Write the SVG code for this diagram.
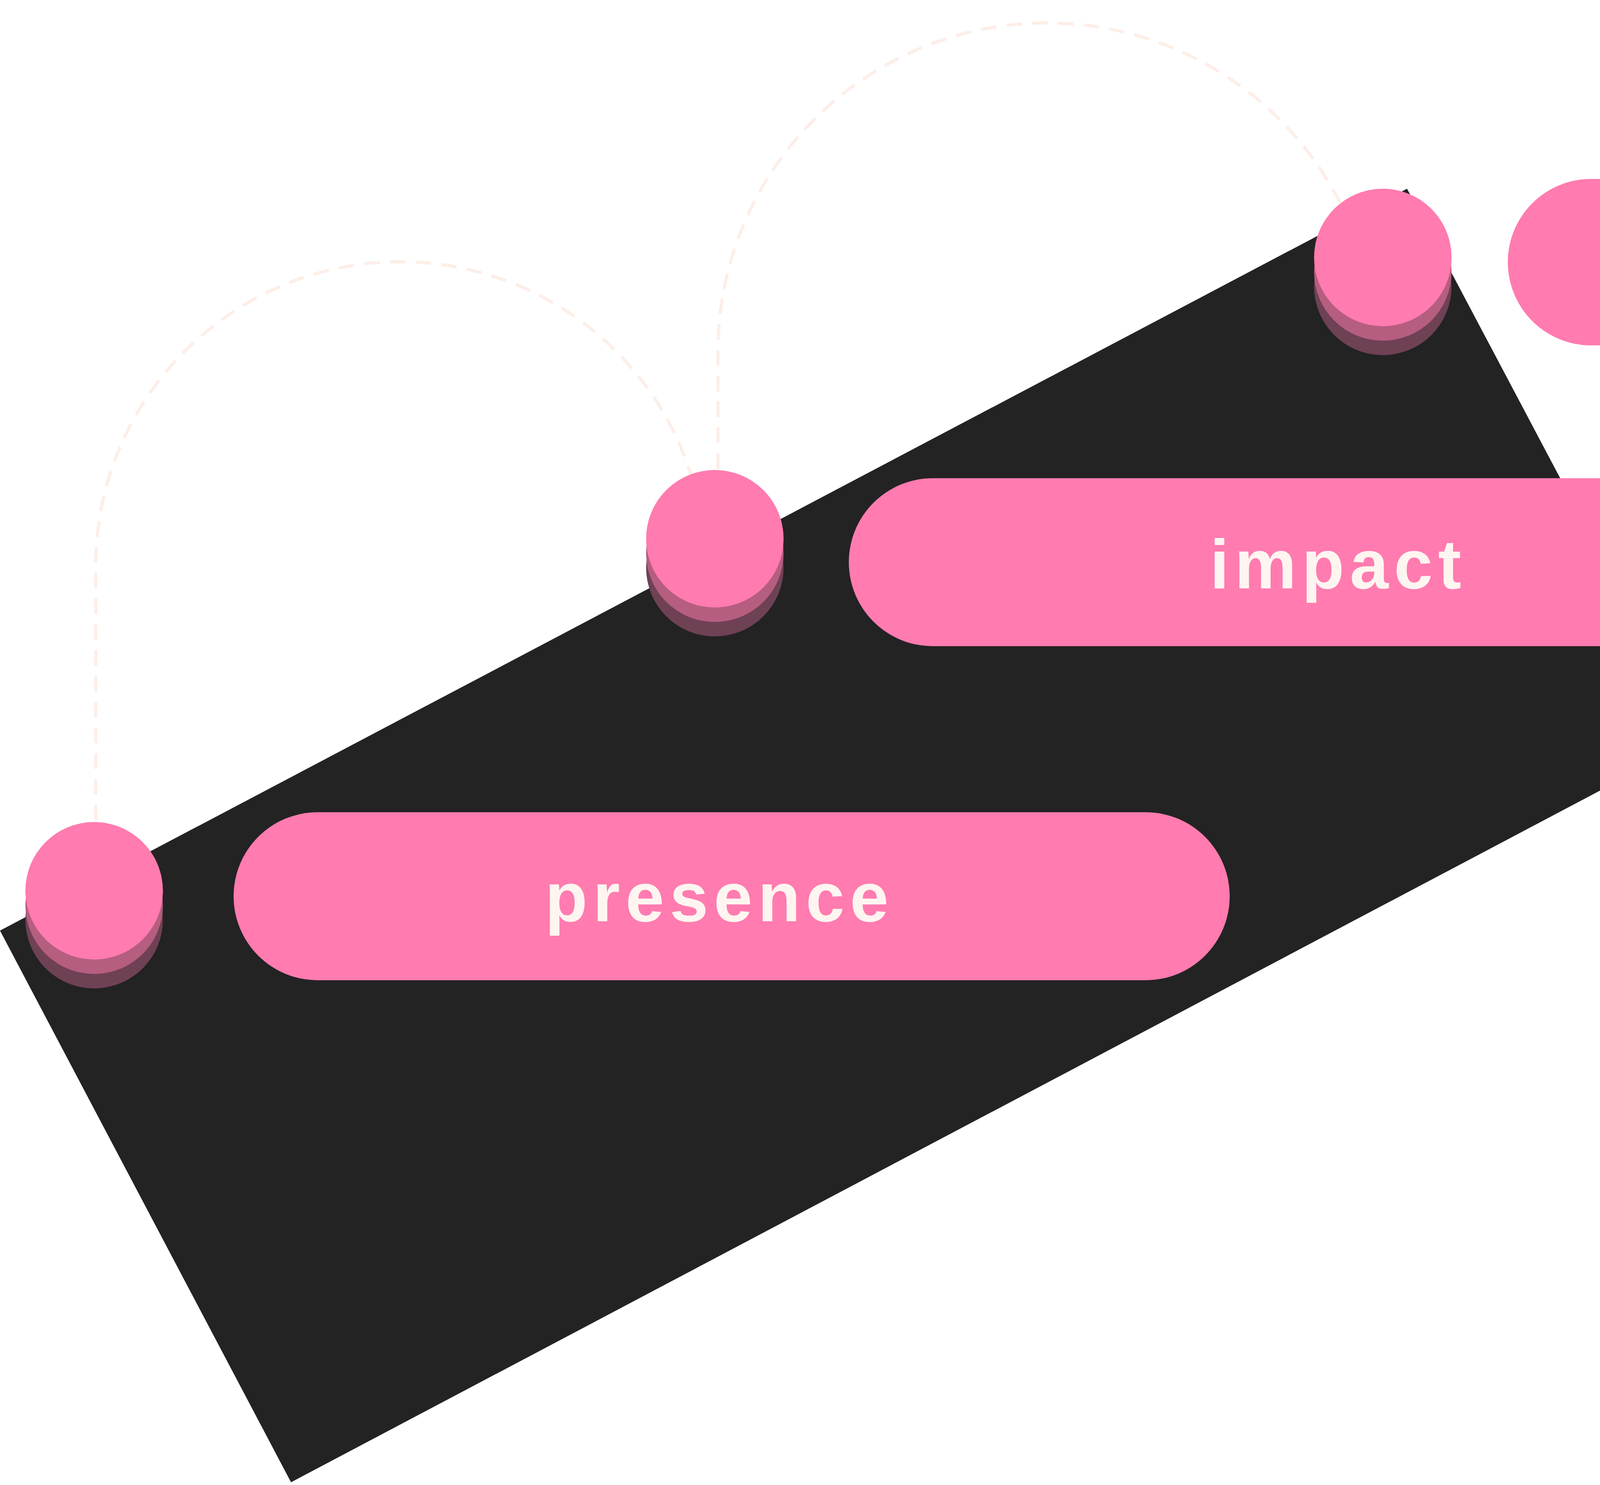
<svg xmlns="http://www.w3.org/2000/svg" width="6418" height="3801" viewBox="0 0 6418 3801">
<style>
.pill{fill:#ff7bb0}
.dot{fill:#ff7bb0}
.s1{fill:#b65e80}
.s2{fill:#6f4155}
.lbl{font-family:"Liberation Sans",Arial,sans-serif;font-weight:700;font-size:178px;fill:#fff5f0;text-anchor:middle;letter-spacing:14px}
.dash{fill:none;stroke:#fdeee8;stroke-width:8;stroke-dasharray:40 26}
</style>
<rect width="6418" height="3801" fill="#ffffff"/>
<polygon points="0,2382 3602,483 4347,1891 745,3794" fill="#232323"/>
<g id="connectors">
<path class="dash" d="M245 2100 L245 1450 A780 780 0 0 1 1805 1450"/>
<path class="dash" d="M1838 1200 L1838 900 A842 842 0 0 1 3431 520"/>
</g>
<g id="presence">
<circle class="s2" cx="241" cy="2354" r="176"/>
<circle class="s1" cx="241" cy="2317" r="176"/>
<circle class="dot" cx="241" cy="2280" r="176"/>
<rect class="pill" x="598" y="2079" width="2550" height="430" rx="215"/>
<text class="lbl" x="1842" y="2358">presence</text>
</g>
<g id="impact">
<circle class="s2" cx="1830" cy="1453" r="176"/>
<circle class="s1" cx="1830" cy="1416" r="176"/>
<circle class="dot" cx="1830" cy="1379" r="176"/>
<rect class="pill" x="2173" y="1224" width="2554" height="430" rx="215"/>
<text class="lbl" x="3426" y="1506">impact</text>
</g>
<g id="comunity">
<circle class="s2" cx="3540" cy="733" r="176"/>
<circle class="s1" cx="3540" cy="696" r="176"/>
<circle class="dot" cx="3540" cy="659" r="176"/>
<rect class="pill" x="3860" y="458" width="2550" height="426" rx="213"/>
<text class="lbl" x="5137" y="737">comunity</text>
</g>
</svg>
